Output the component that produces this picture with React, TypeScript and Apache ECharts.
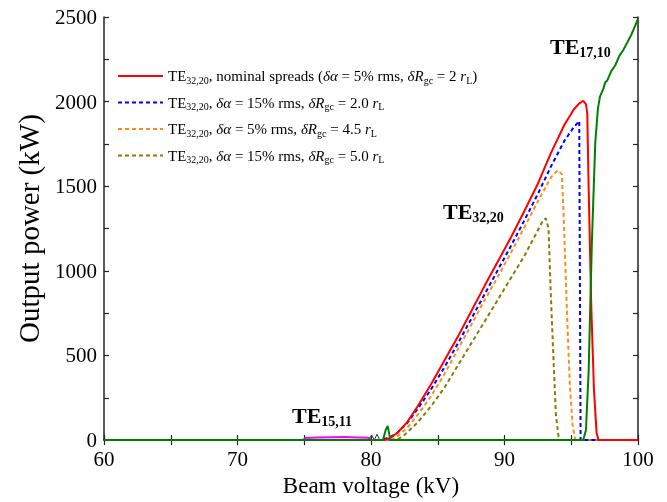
import React, { useEffect, useRef } from "react";
import * as echarts from "echarts";

const FONT = "'Liberation Serif', 'Times New Roman', serif";

// Beam voltage (kV) / output power (kW)
const nominalV = [60, 81.0, 81.5, 82, 82.7, 83.5, 84.5, 85.5, 86.5, 87.5, 88.5, 89.5, 90.5, 91.5, 92.5, 93.5, 94.5, 95.2, 95.6, 95.9, 96.1, 96.2, 96.3, 96.5, 96.7, 96.9, 97.05, 100];
const nominalP = [0, 0, 15, 45, 105, 200, 330, 470, 610, 760, 910, 1055, 1200, 1355, 1515, 1700, 1865, 1955, 1990, 2005, 1985, 1930, 1500, 790, 300, 40, 0, 0];

const a15r20V = [60, 80.8, 81.5, 82, 82.7, 83.5, 84.5, 85.5, 86.5, 87.5, 88.5, 89.5, 90.5, 91.5, 92.5, 93.5, 94.5, 95.2, 95.6, 95.65, 95.7, 100];
const a15r20P = [0, 0, 20, 45, 100, 185, 300, 430, 570, 715, 860, 1005, 1150, 1300, 1455, 1620, 1770, 1850, 1885, 900, 0, 0];

const a5r45V = [60, 81.5, 82, 82.7, 83.5, 84.5, 85.5, 86.5, 87.5, 88.5, 89.5, 90.5, 91.5, 92.5, 93.5, 94.0, 94.3, 94.45, 94.7, 94.9, 95.1, 95.3, 100];
const a5r45P = [0, 0, 25, 70, 150, 260, 390, 535, 680, 825, 965, 1110, 1260, 1410, 1555, 1595, 1570, 1290, 710, 320, 90, 0, 0];

const a15r50V = [60, 81.9, 82.5, 83.5, 84.5, 85.5, 86.5, 87.5, 88.5, 89.5, 90.5, 91.5, 92.5, 92.9, 93.1, 93.3, 93.45, 93.7, 93.85, 94.05, 94.2, 100];
const a15r50P = [0, 0, 30, 105, 200, 310, 440, 570, 700, 830, 960, 1090, 1240, 1300, 1310, 1250, 900, 420, 150, 20, 0, 0];

const te1710V = [60, 80.9, 81.1, 81.25, 81.45, 95.9, 96.1, 96.3, 96.55, 96.8, 97.0, 97.15, 97.4, 97.55, 97.7, 98.0, 98.3, 98.6, 98.9, 99.2, 99.5, 99.8, 100];
const te1710P = [0, 0, 60, 84, 0, 0, 60, 400, 1180, 1760, 1960, 2030, 2075, 2115, 2125, 2180, 2215, 2270, 2305, 2350, 2395, 2450, 2490];

const te1511V = [60, 74.9, 75.1, 76, 77, 78, 79, 79.8, 80.0, 100];
const te1511P = [0, 0, 12, 15, 17, 18, 16, 14, 0, 0];

const otherV = [79.8, 80.05, 80.25, 80.45, 80.65, 80.8];
const otherP = [0, 30, 0, 35, 0, 0];

const xTicks = { min: 60, max: 100, interval: 10 };
const yTicks = { min: 0, max: 2500, interval: 500 };

const seriesNames = ["nominal", "a15r20", "a5r45", "a15r50"];
const legendText: Record<string, string> = {
  nominal: "TE{sub|32,20}, nominal spreads ({it|δα} = 5% rms, {it|δR}{sub|gc} = 2 {it|r}{sub|L})",
  a15r20: "TE{sub|32,20}, {it|δα} = 15% rms, {it|δR}{sub|gc} = 2.0 {it|r}{sub|L}",
  a5r45: "TE{sub|32,20}, {it|δα} = 5% rms, {it|δR}{sub|gc} = 4.5 {it|r}{sub|L}",
  a15r50: "TE{sub|32,20}, {it|δα} = 15% rms, {it|δR}{sub|gc} = 5.0 {it|r}{sub|L}",
};

const zip = (v: number[], p: number[]) => v.map((x, i) => [x, p[i]]);

export default function App() {
  const ref = useRef<HTMLDivElement>(null);
  useEffect(() => {
    const chart = echarts.init(ref.current!, null, { renderer: "svg" });
    const axisLine = { show: true, lineStyle: { color: "#222", width: 1.5 } };
    const tick = { show: true, inside: true, length: 5, lineStyle: { color: "#222", width: 1.2 } };
    const minor = { show: true, splitNumber: 2, length: 5, lineStyle: { color: "#222", width: 1.2 } };
    const lbl = { fontFamily: FONT, fontSize: 21, color: "#000", formatter: (v: number) => String(v) };
    const line = (name: string, v: number[], p: number[], color: string, dashed: boolean, width = 2) => ({
      name,
      type: "line",
      data: zip(v, p),
      showSymbol: false,
      symbol: "none",
      lineStyle: { color, width, type: dashed ? [4, 3] : "solid" },
      itemStyle: { color },
      z: 2,
    });
    const labelRich = {
      a: { fontFamily: FONT, fontSize: 22, fontWeight: "bold", fill: "#000", lineHeight: 26 },
      b: { fontFamily: FONT, fontSize: 14, fontWeight: "bold", fill: "#000", lineHeight: 26, padding: [12, 0, 0, 0] },
    };
    chart.setOption({
      animation: false,
      grid: { left: 104, right: 29, top: 17, bottom: 57 },
      xAxis: [
        {
          type: "value", ...xTicks, position: "bottom",
          axisLine, axisTick: tick, minorTick: minor, splitLine: { show: false },
          axisLabel: { ...lbl, margin: 8 },
          name: "Beam voltage (kV)", nameLocation: "middle", nameGap: 31,
          nameTextStyle: { fontFamily: FONT, fontSize: 23, color: "#000" },
        },
        {
          type: "value", ...xTicks, position: "top",
          axisLine, axisTick: tick, minorTick: minor, splitLine: { show: false },
          axisLabel: { show: false },
        },
      ],
      yAxis: [
        {
          type: "value", ...yTicks, position: "left",
          axisLine, axisTick: tick, minorTick: minor, splitLine: { show: false },
          axisLabel: { ...lbl, margin: 7 },
          name: "Output power (kW)", nameLocation: "middle", nameGap: 61,
          nameTextStyle: { fontFamily: FONT, fontSize: 29, color: "#000" },
        },
        {
          type: "value", ...yTicks, position: "right",
          axisLine, axisTick: tick, minorTick: minor, splitLine: { show: false },
          axisLabel: { show: false },
        },
      ],
      legend: {
        data: seriesNames,
        orient: "vertical",
        left: 117,
        top: 66,
        padding: 0,
        itemWidth: 45,
        itemHeight: 14,
        itemGap: 6.5,
        itemStyle: { opacity: 0 },
        formatter: (name: string) => legendText[name],
        textStyle: {
          fontFamily: FONT, fontSize: 15, color: "#000", lineHeight: 20,
          rich: {
            sub: { fontFamily: FONT, fontSize: 10, color: "#000", lineHeight: 20, padding: [8, 0, 0, 0] },
            it: { fontFamily: FONT, fontSize: 15, color: "#000", fontStyle: "italic", lineHeight: 20 },
          },
        },
      },
      graphic: [
        { type: "text", style: { text: "{a|TE}{b|32,20}", x: 443, y: 211, verticalAlign: "middle", fill: "#000", rich: labelRich } },
        { type: "text", style: { text: "{a|TE}{b|17,10}", x: 550, y: 46, verticalAlign: "middle", fill: "#000", rich: labelRich } },
        { type: "text", style: { text: "{a|TE}{b|15,11}", x: 292, y: 415, verticalAlign: "middle", fill: "#000", rich: labelRich } },
      ],
      series: [
        line("te1511", te1511V, te1511P, "#ff00ff", false, 2),
        line("other", otherV, otherP, "#333366", false, 1),
        line("a15r50", a15r50V, a15r50P, "#808000", true),
        line("a5r45", a5r45V, a5r45P, "#ff8c1a", true),
        line("a15r20", a15r20V, a15r20P, "#0000ff", true),
        line("nominal", nominalV, nominalP, "#ff0000", false),
        line("te1710", te1710V, te1710P, "#008000", false),
      ],
    });
    return () => chart.dispose();
  }, []);
  return <div ref={ref} style={{ position: "fixed", left: 0, top: 0, width: 667, height: 502 }} />;
}
